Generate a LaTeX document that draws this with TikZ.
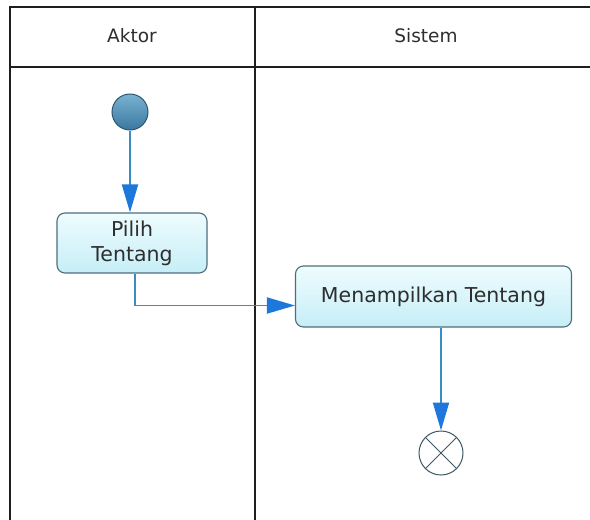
\documentclass[tikz,border=0pt]{standalone}
\usepackage{fontspec}
\setmainfont{DejaVu Sans}
\usetikzlibrary{arrows.meta}

\definecolor{frameline}{HTML}{1E1E1E}
\definecolor{flow}{HTML}{3A8CC4}
\definecolor{flowtip}{HTML}{1E78DC}
\definecolor{boxedge}{HTML}{4F6E7C}
\definecolor{boxtop}{HTML}{EEFCFE}
\definecolor{boxbot}{HTML}{C6EEF7}
\definecolor{inittop}{HTML}{79B2D2}
\definecolor{initbot}{HTML}{3A789F}
\definecolor{initedge}{HTML}{2C5670}
\definecolor{txt}{HTML}{2E2E2E}

\tikzset{
  lane/.style={draw=frameline, line width=1.8pt},
  lanetitle/.style={text=txt, font=\fontsize{18.5}{22}\selectfont, inner sep=0pt, anchor=base},
  actbox/.style={draw=boxedge, line width=1.1pt, rounded corners=8pt,
    top color=boxtop, bottom color=boxbot, text=txt, align=center,
    font=\fontsize{20.5}{25}\selectfont, inner sep=0pt},
  initial/.style={circle, draw=initedge, line width=1pt, top color=inittop,
    bottom color=initbot, minimum size=36pt, inner sep=0pt},
  final/.style={circle, draw=boxedge!80!black, line width=1pt, fill=white,
    minimum size=44pt, inner sep=0pt},
  conn/.style={draw=flow, line width=1.9pt,
    -{Triangle[length=28pt, width=16pt, color=flowtip, fill=flowtip]}},
}

\begin{document}
\begin{tikzpicture}[x=1pt, y=-1pt]
  \useasboundingbox (0,0) rectangle (590,520);
  \fill[white] (0,0) rectangle (590,520);

  % swimlane frame
  \draw[lane] (10,520) -- (10,7) -- (592,7);
  \draw[lane] (10,67) -- (592,67);
  \draw[lane] (255,7) -- (255,520);
  \node[lanetitle] (aktor) at (132,42) {Aktor};
  \node[lanetitle] (sistem) at (426,42) {Sistem};

  % activity nodes
  \node[initial] (start) at (130,112) {};
  \node[actbox, minimum width=150pt, minimum height=60pt] (pilih) at (132,243) {Pilih\\Tentang};
  \node[actbox, minimum width=276pt, minimum height=61pt] (tampil) at (433.5,296.5) {Menampilkan Tentang};
  \node[final] (stop) at (441,453) {};
  \draw[boxedge!80!black, line width=0.9pt]
    (stop.north east) -- (stop.south west)
    (stop.north west) -- (stop.south east);

  % control flow
  \draw[conn] (start.south) -- (start.south |- pilih.north);
  \draw[conn] ([xshift=3pt]pilih.south) |- ([yshift=-9pt]tampil.west);
  \draw[conn] (tampil.south -| stop.north) -- (stop.north);
\end{tikzpicture}
\end{document}
